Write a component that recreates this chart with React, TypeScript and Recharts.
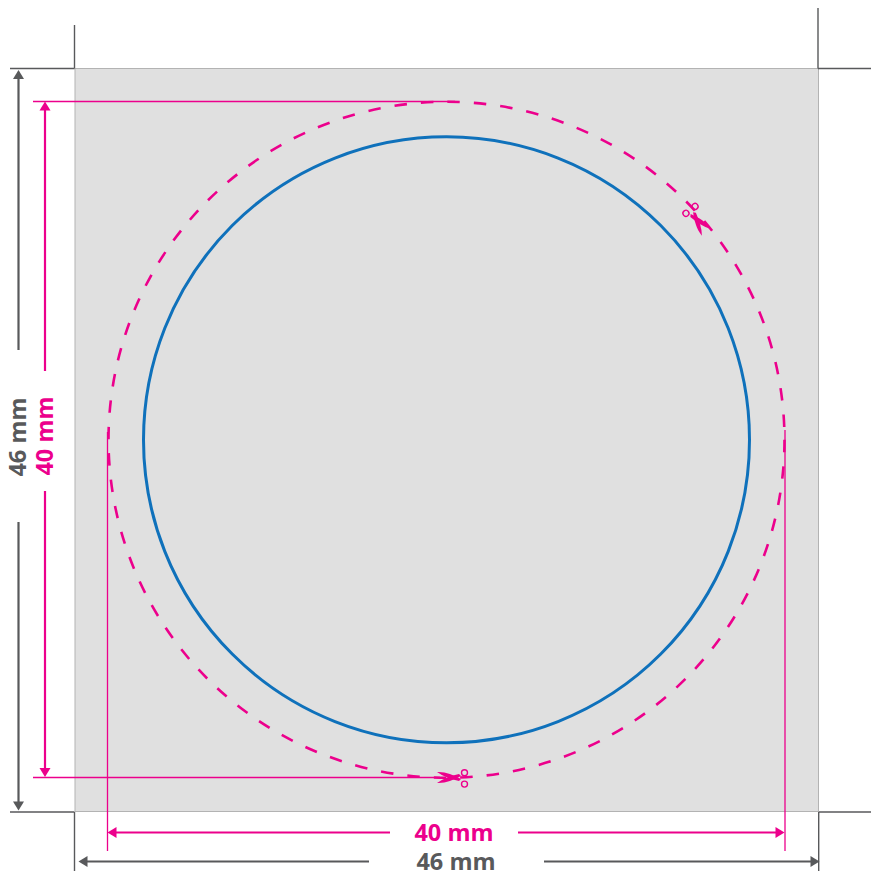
import React from "react";
import { ComposedChart, XAxis, YAxis, ReferenceArea, ReferenceDot, ReferenceLine } from "recharts";

type Seg = [number, number, number, number];
const GRAY = "#58595b";
const PINK = "#ec008c";

const sheet = { x1: 75, x2: 818.5, y1: 68.5, y2: 811.5 };
const centre = { x: 446.5, y: 439.8 };
const cutRadius = 338;
const innerRadius = 303;

const cropMarks: Seg[] = [
  [74.5, 25, 74.5, 68.5],
  [10, 68.5, 74.5, 68.5],
  [74.5, 812, 74.5, 871],
  [10, 812, 74.5, 812],
  [818, 8, 818, 68.5],
  [818, 68.5, 871, 68.5],
  [818.7, 812, 818.7, 871],
  [818.7, 812, 871, 812],
];
const grayDims: Seg[] = [
  [18.5, 74, 18.5, 350],
  [18.5, 522, 18.5, 806],
  [84, 861.5, 369, 861.5],
  [544, 861.5, 814, 861.5],
];
const pinkDims: Seg[] = [
  [45, 106, 45, 371],
  [45, 491, 45, 773],
  [112, 832.5, 390, 832.5],
  [518, 832.5, 780, 832.5],
];
const leaders: Seg[] = [
  [33, 101.5, 455, 101.5],
  [33, 777.5, 440, 777.5],
  [107.5, 432, 107.5, 851],
  [785, 430, 785, 851],
];
// x, y, rotation (0 = pointing up)
const grayArrows = [
  [18.5, 70, 0],
  [18.5, 810.5, 180],
  [78.5, 861.5, 270],
  [819.5, 861.5, 90],
];
const pinkArrows = [
  [45, 101.5, 0],
  [45, 777, 180],
  [107.5, 832.5, 270],
  [784.5, 832.5, 90],
];
const scissors = [
  [455, 777.5, 0],
  [695.5, 218, 233],
];
const labels = [
  { text: "46 mm", x: 456, y: 870, angle: 0, color: GRAY },
  { text: "40 mm", x: 454, y: 840.5, angle: 0, color: PINK },
  { text: "46 mm", x: 25.5, y: 437, angle: -90, color: GRAY },
  { text: "40 mm", x: 52.5, y: 436, angle: -90, color: PINK },
];

const Arrow = ({ cx, cy, rot, color }: any) => (
  <path d="M0,0 L5.5,9 L-5.5,9 Z" fill={color} transform={`translate(${cx},${cy}) rotate(${rot})`} />
);

const Scissors = ({ cx, cy, rot }: any) => (
  <g transform={`translate(${cx},${cy}) rotate(${rot})`}>
    <path d="M-18,-5.5 C-10,-6 -2,-3 6,1.5 L4,3.5 C-4,1.5 -12,-1 -18,-5.5 Z" fill={PINK} />
    <path d="M-18,5.5 C-10,6 -2,3 6,-1.5 L4,-3.5 C-4,-1.5 -12,1 -18,5.5 Z" fill={PINK} />
    <circle cx={9.5} cy={-4.8} r={3} fill="none" stroke={PINK} strokeWidth={1.4} />
    <circle cx={9.5} cy={6.6} r={3} fill="none" stroke={PINK} strokeWidth={1.4} />
  </g>
);

const Label = ({ cx, cy, text, angle, color }: any) => (
  <text
    x={cx}
    y={cy}
    textAnchor="middle"
    transform={angle ? `rotate(${angle} ${cx} ${cy})` : undefined}
    fill={color}
    fontFamily="'Open Sans', sans-serif"
    fontWeight={700}
    fontSize={23.5}
  >
    {text}
  </text>
);

const seg = (s: Seg, color: string, width: number, key: string) => (
  <ReferenceLine
    key={key}
    segment={[{ x: s[0], y: s[1] }, { x: s[2], y: s[3] }]}
    stroke={color}
    strokeWidth={width}
  />
);

export default function App() {
  return (
    <div style={{ position: "absolute", left: 0, top: 0, width: 871, height: 871, background: "#fff" }}>
      <ComposedChart width={871} height={871} margin={{ top: 0, right: 0, bottom: 0, left: 0 }} data={[{ x: 0, y: 0 }]}>
        <XAxis type="number" dataKey="x" domain={[0, 871]} hide />
        <YAxis type="number" dataKey="y" domain={[0, 871]} reversed hide />
        <ReferenceArea x1={sheet.x1} x2={sheet.x2} y1={sheet.y1} y2={sheet.y2} fill="#e0e0e0" fillOpacity={1} stroke="#b3b3b3" strokeWidth={1} />
        <ReferenceDot x={centre.x} y={centre.y} r={innerRadius} fill="none" stroke="#0f71bb" strokeWidth={3} />
        <ReferenceDot x={centre.x} y={centre.y} r={cutRadius} fill="none" stroke={PINK} strokeWidth={2.6} strokeDasharray="12.5 14.05" strokeDashoffset={0} />
        {cropMarks.map((s, i) => seg(s, GRAY, 1.4, `c${i}`))}
        {leaders.map((s, i) => seg(s, PINK, 1.3, `l${i}`))}
        {grayDims.map((s, i) => seg(s, GRAY, 2.2, `g${i}`))}
        {pinkDims.map((s, i) => seg(s, PINK, 2.2, `p${i}`))}
        {grayArrows.map((a, i) => (
          <ReferenceDot key={`ga${i}`} x={a[0]} y={a[1]} shape={(p: any) => <Arrow {...p} rot={a[2]} color={GRAY} />} />
        ))}
        {pinkArrows.map((a, i) => (
          <ReferenceDot key={`pa${i}`} x={a[0]} y={a[1]} shape={(p: any) => <Arrow {...p} rot={a[2]} color={PINK} />} />
        ))}
        {scissors.map((a, i) => (
          <ReferenceDot key={`s${i}`} x={a[0]} y={a[1]} shape={(p: any) => <Scissors {...p} rot={a[2]} />} />
        ))}
        {labels.map((l, i) => (
          <ReferenceDot key={`t${i}`} x={l.x} y={l.y} shape={(p: any) => <Label {...p} text={l.text} angle={l.angle} color={l.color} />} />
        ))}
      </ComposedChart>
    </div>
  );
}
